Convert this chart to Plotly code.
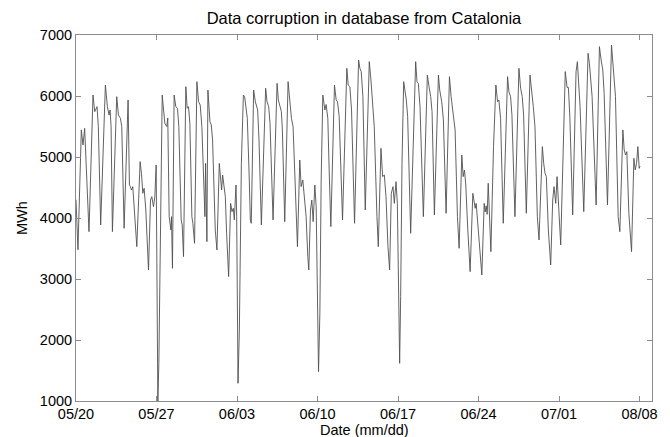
import plotly.graph_objects as go

# Hourly demand trace, stored as (hours since 05/20 00:00, MWh) vertices
hours = [
    0, 4.1, 11.1, 14.6, 18.1, 21.5, 27.1, 35.5, 39, 43.9, 46.6, 51.5,
    61.3, 65.5, 69, 71.1, 73.2, 76, 85, 88.5, 92.7, 95.5, 100.4,
    108.7, 111.5, 113.6, 115.7, 118.5, 121.3, 126.9, 133.8, 136.6, 139.4,
    142.2, 145.7, 151.3, 155.5, 158.2, 161.7, 164.5, 167.3, 168.7, 170.8,
    172.9, 175.7, 179.9, 185.4, 189.5, 191.5, 194.4, 197.9, 199.3, 201.3,
    204.8, 208.3, 211.8, 214.6, 219.5, 221.6, 224.4, 229.2, 232, 234.8,
    237.6, 241.8, 243.9, 247.4, 252.3, 255.8, 259.2, 262.7, 266.9, 269,
    270.4, 271.8, 273.2, 275.3, 279.5, 282.3, 285, 290.6, 294.1, 299,
    301.8, 303.9, 306, 308.8, 311.6, 314.3, 318.5, 322.7, 325.5, 328.3,
    330.4, 333.9, 335.3, 338.1, 340.9, 345.1, 349.3,
    351.9, 355.4, 357.5, 361, 363.8, 365.8, 370.7, 374.2, 377, 379.1,
    381.9, 386.8, 395.8, 398.6, 402.1, 404.9, 411.2, 419.6, 422.3, 425.8,
    428.6, 430.7, 435.6, 442.6, 446.1, 449.6, 453, 457.9, 462.1, 467,
    469.8, 473.3, 476.1, 480.2, 483.7, 485.8, 489.3, 492.1, 494.9, 498.4,
    501.2, 504, 506.1, 508.9, 511.6, 515.1, 519.3,
    522, 525.5, 528.3, 531.8, 539.4, 542.9, 545.7, 549.2, 556.2, 565.2,
    568, 571.5, 575, 581.3, 589.7, 592.4, 595.2, 598.7, 603.6, 612,
    615.5, 618.9, 622.4, 628, 630.8, 636.4, 639.9, 643.4, 646.9, 651,
    654.5, 658, 661.5, 664.3, 667.8, 670.6, 673.4, 675.4, 677.5, 680.3,
    683.8, 686.5,
    689.3, 692.1, 694.9, 698.4, 708.8, 711.6, 714.4, 717.9, 724.9, 733.2,
    736.7, 740.2, 743, 747.9, 756.3, 759, 763.2, 766.7, 772.3, 779.3,
    782.8, 787.6, 791.1, 796, 799.5, 805.1, 807.9, 810.7, 813.4, 817.6,
    822.5, 828.1, 830.9, 833, 835.1, 840, 842.7, 846.9, 851.8, 853.9,
    856, 858.1, 860.2, 862.3, 865.8,
    871.3, 876.2, 879.7, 882.5, 886, 891.6, 900.6, 903.4, 906.9, 909.7,
    916, 924.3, 927.8, 931.3, 934.1, 939.7, 947.4, 950.9, 954.3, 957.8,
    962.7, 966.2, 973.2, 976, 978.8, 981.5, 985.7, 990.6, 994.8, 997.6,
    1001.1, 1003.9, 1008, 1011.5, 1021, 1024.8, 1027.5, 1030.6,
    1036.5, 1043.5, 1046.3, 1049.1, 1051.9, 1059.6, 1068.6, 1071.4, 1074.2,
    1077, 1085.4, 1092.3, 1095.8, 1099.3, 1102.1, 1109.1, 1117.5, 1120.2,
    1123, 1125.8, 1131.4, 1134.9, 1141.2, 1144, 1146.8, 1149.5, 1153.7,
    1159.3, 1164.2, 1167, 1169.8, 1172.5, 1175.3, 1177,
]

mwh = [
    4300, 3480, 5443, 5197, 5470, 4896, 3776, 6016, 5743, 5825, 5497, 3886,
    6180, 5825, 5689, 5770, 5497, 3776, 5989, 5689, 5634, 5497, 3831,
    5935, 4541, 4514, 4459, 4514, 4131, 3530, 4924, 4732, 4405,
    4487, 4131, 3148, 4295, 4350, 4186, 4350, 4869, 3257, 1000,
    1618, 3804, 6016, 5552, 5500, 5640, 4022, 3804, 4022, 3175,
    6016, 5825, 5798, 5497, 3968, 3886, 3367, 6153, 5798, 5825,
    5552, 4022, 3913, 3585, 6235, 5907, 5853, 5497, 4240, 4022,
    4896, 4022, 3612, 6098, 5579, 5525, 5279, 3804, 3476, 4896,
    4623, 4459, 4705, 4459, 4350, 3749, 3039, 4240, 4104, 4159,
    3968, 4541, 4022, 1290, 2165, 4896, 6016,
    5989, 5743, 5634, 4787, 3968, 3913, 6098, 5907, 5798, 5771,
    5279, 3886, 6126, 5907, 5825, 5552, 3968, 6208, 5935, 5825,
    5743, 5443, 3940, 6235, 5880, 5634, 5497, 4405, 3530, 4951,
    4514, 4623, 4377, 4022, 3367, 3148, 4131, 4295, 3940, 4541,
    4186, 2438, 1481, 2438, 4623, 6016, 5771,
    5860, 5634, 4787, 3858, 6180, 5935, 5907, 5661, 3968, 6454,
    6180, 6153, 5771, 3913, 6590, 6454, 6399, 5989, 4131, 6563,
    6262, 5935, 5497, 4022, 3530, 5142, 4678, 4705, 4350, 3530,
    3148, 4405, 4514, 4240, 4596, 4240, 2711, 1618, 2711, 4896,
    6235, 6098,
    5935, 5661, 4896, 3749, 6563, 6235, 6208, 5825, 4022, 6344,
    6153, 5989, 5743, 4050, 6344, 6098, 5907, 5607, 4077, 6317,
    5989, 5689, 5443, 4022, 3503, 5033, 4678, 4787, 4541, 3804,
    3121, 4405, 4295, 4159, 4240, 3804, 3530, 3066, 4240, 4100,
    4200, 4060, 4569, 4022, 3448,
    5170, 6180, 5907, 5935, 5634, 3913, 6317, 6071, 5989, 5689,
    4022, 6454, 6126, 5989, 5689, 4077, 6344, 6098, 5825, 5497,
    4022, 3640, 5170, 4896, 4732, 4678, 3804, 3230, 4295, 4514,
    4240, 4678, 4022, 3558, 6400, 6140, 6140, 5650,
    4050, 6399, 6563, 6235, 5825, 4104, 6700, 6536, 6317,
    5989, 4213, 6809, 6590, 6426, 6044, 4213, 6836, 6590,
    6262, 5989, 4022, 3776, 5443, 5115, 5033, 5088, 4077,
    3448, 4978, 4787, 4896, 5170, 4814, 4850,
]

# Weekly date ticks
tick_hours = [0, 168, 336, 504, 672, 840, 1008, 1176]
tick_labels = ["05/20", "05/27", "06/03", "06/10", "06/17", "06/24", "07/01", "08/08"]
y_ticks = [1000, 2000, 3000, 4000, 5000, 6000, 7000]

frame = "#8c8c8c"
font_family = "Liberation Sans, Arial, Helvetica, sans-serif"

fig = go.Figure()
fig.add_trace(go.Scatter(
    x=hours, y=mwh, mode="lines",
    line=dict(color="#505050", width=0.9),
    hoverinfo="skip",
))

axis_common = dict(
    showline=True, linecolor=frame, linewidth=1, mirror="ticks",
    ticks="inside", ticklen=5, tickcolor=frame, tickwidth=1,
    showgrid=False, zeroline=False,
    tickfont=dict(family=font_family, size=14.5, color="black"),
)

fig.update_layout(
    width=670, height=437,
    margin=dict(l=76, r=18, t=35, b=36),
    paper_bgcolor="white", plot_bgcolor="white",
    showlegend=False,
    font=dict(family=font_family, size=14.5, color="black"),
    title=dict(
        text="Data corruption in database from Catalonia",
        x=0.5, xref="paper", xanchor="center",
        y=1 - 18.5 / 437, yref="container", yanchor="middle",
        font=dict(family=font_family, size=16.5, color="black"),
    ),
    xaxis=dict(range=[0, 1202], tickvals=tick_hours, ticktext=tick_labels, **axis_common),
    yaxis=dict(range=[1000, 7000], tickvals=y_ticks, ticktext=[str(v) for v in y_ticks], **axis_common),
    annotations=[
        dict(text="Date (mm/dd)", xref="paper", yref="paper", x=0.5, y=0,
             xanchor="center", yanchor="middle", yshift=-28.5, showarrow=False,
             font=dict(family=font_family, size=14.5, color="black")),
        dict(text="MWh", xref="paper", yref="paper", x=0, y=0.5,
             xanchor="center", yanchor="middle", xshift=-54, textangle=-90,
             showarrow=False,
             font=dict(family=font_family, size=14.5, color="black")),
    ],
)

fig.write_html("out.html")
